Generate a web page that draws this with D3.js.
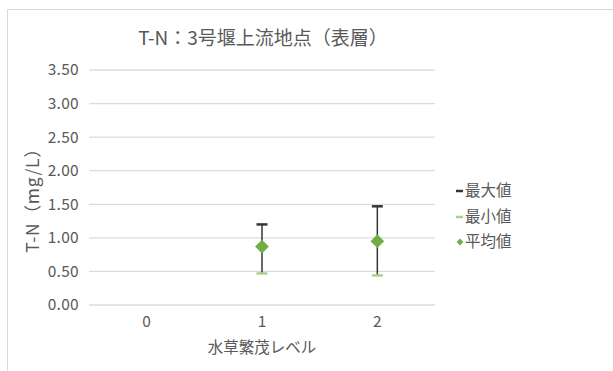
<!DOCTYPE html>
<html>
<head>
<meta charset="utf-8">
<script src="https://cdn.jsdelivr.net/npm/d3@7"></script>
<style>
	body{margin:0;background:#fff;}
	svg text{font-family:"Noto Sans CJK JP","Noto Sans",sans-serif;fill:#595959;}
</style>
</head>
<body>
<svg id="chart" width="613" height="371"></svg>
<script>
// 水草繁茂レベル
const categories = ['0','1','2'];
const maxValues = [null,1.20,1.47];
const minValues = [null,0.47,0.44];
const meanValues = [null,0.87,0.95];
const yTicks = [0,0.5,1,1.5,2,2.5,3,3.5];
const legendLabels = ['最大値','最小値','平均値'];

const colors = {
	max:'#2f3a2f',
	min:'#a9d18e',
	mean:'#70ad47',
	grid:'#dcdcdc'
};

const svg = d3.select('#chart');

// chart frame
svg.append('rect')
	.attr('x',7.5).attr('y',9.5)
	.attr('width',640).attr('height',400)
	.attr('fill','#fff')
	.attr('stroke','#d9d9d9');

const plot = {left:89,right:435,top:70,bottom:305};

const x = d3.scaleBand()
	.domain(categories)
	.range([plot.left,plot.right]);
const y = d3.scaleLinear()
	.domain([0,3.5])
	.range([plot.bottom,plot.top]);

// gridlines
svg.append('g')
	.selectAll('line')
	.data(yTicks)
	.join('line')
		.attr('x1',plot.left).attr('x2',plot.right)
		.attr('y1',d=>y(d)).attr('y2',d=>y(d))
		.attr('stroke',colors.grid)
		.attr('stroke-width',1.3);

// y axis labels
const yAxis = d3.axisLeft(y).tickValues(yTicks).tickFormat(d3.format('.2f')).tickSize(0).tickPadding(10);
const gy = svg.append('g').attr('transform','translate('+plot.left+',0)').call(yAxis);
gy.select('.domain').remove();
gy.selectAll('text').style('font-size','15.5px').style('letter-spacing','0.3px').attr('fill','#595959');

// x axis labels
const xAxis = d3.axisBottom(x).tickSize(0).tickPadding(11);
const gx = svg.append('g').attr('transform','translate(0,'+plot.bottom+')').call(xAxis);
gx.select('.domain').remove();
gx.selectAll('text').style('font-size','15.5px').attr('fill','#595959');

// error bars
const data = categories.map((c,i)=>({cat:c,max:maxValues[i],min:minValues[i],mean:meanValues[i]}))
	.filter(d=>d.mean!=null);
const cx = d=>x(d.cat)+x.bandwidth()/2;
const capW = 11;

const bars = svg.append('g');
bars.selectAll('line.stem')
	.data(data)
	.join('line')
		.classed('stem',true)
		.attr('x1',cx).attr('x2',cx)
		.attr('y1',d=>y(d.max)).attr('y2',d=>y(d.min))
		.attr('stroke',colors.max)
		.attr('stroke-width',1.5);
bars.selectAll('line.maxcap')
	.data(data)
	.join('line')
		.classed('maxcap',true)
		.attr('x1',d=>cx(d)-capW/2).attr('x2',d=>cx(d)+capW/2)
		.attr('y1',d=>y(d.max)).attr('y2',d=>y(d.max))
		.attr('stroke',colors.max)
		.attr('stroke-width',2.5);
bars.selectAll('line.mincap')
	.data(data)
	.join('line')
		.classed('mincap',true)
		.attr('x1',d=>cx(d)-capW/2).attr('x2',d=>cx(d)+capW/2)
		.attr('y1',d=>y(d.min)).attr('y2',d=>y(d.min))
		.attr('stroke',colors.min)
		.attr('stroke-width',2.5);

const diamond = d3.symbol().type(d3.symbolDiamond2).size(120);
bars.selectAll('path.mean')
	.data(data)
	.join('path')
		.classed('mean',true)
		.attr('d',diamond)
		.attr('transform',d=>'translate('+cx(d)+','+y(d.mean)+')')
		.attr('fill',colors.mean);

// title
svg.append('text')
	.attr('x',263).attr('y',45)
	.attr('text-anchor','middle')
	.style('font-size','19px')
	.text('T-N：3号堰上流地点（表層）');

// axis titles
svg.append('text')
	.attr('x',262).attr('y',353)
	.attr('text-anchor','middle')
	.style('font-size','15.5px')
	.text('水草繁茂レベル');
svg.append('text')
	.attr('transform','translate(39,196) rotate(-90)')
	.attr('text-anchor','middle')
	.style('font-size','17.5px')
	.style('letter-spacing','0.8px')
	.text('T-N（mg/L）');

// legend
const legend = svg.append('g').attr('transform','translate(455,0)');
const legendY = [191,217,242];
legendLabels.forEach((label,i)=>{
	const g = legend.append('g').attr('transform','translate(0,'+legendY[i]+')');
	if(i<2){
		g.append('line')
			.attr('x1',1).attr('x2',8)
			.attr('stroke',i==0?colors.max:colors.min)
			.attr('stroke-width',2.5);
	}else{
		g.append('path')
			.attr('d',d3.symbol().type(d3.symbolDiamond2).size(30))
			.attr('transform','translate(5,0)')
			.attr('fill',colors.mean);
	}
	g.append('text')
		.attr('x',10).attr('dy','0.35em')
		.style('font-size','15.5px')
		.text(label);
});
</script>
</body>
</html>
